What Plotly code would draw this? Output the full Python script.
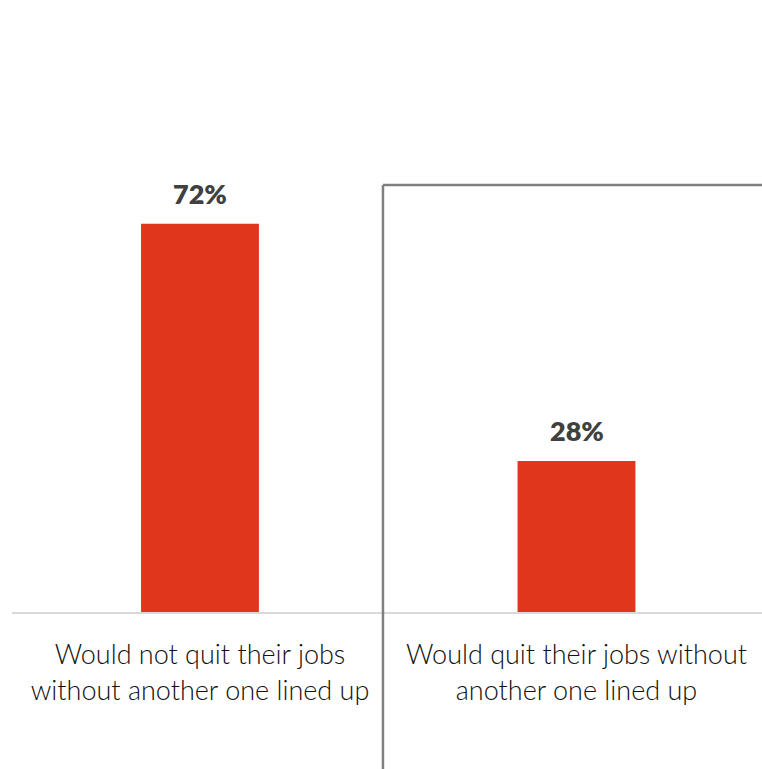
import plotly.graph_objects as go

categories = ["Would not quit their jobs<br>without another one lined up",
              "Would quit their jobs without<br>another one lined up"]
values = [72, 28]
value_labels = ["72%", "28%"]
xpos = [0, 1]

fig = go.Figure(go.Bar(
    x=xpos, y=values,
    marker=dict(color="#E0361B", line=dict(width=0)),
    width=0.313,
))

for x, v, t in zip(xpos, values, value_labels):
    fig.add_annotation(x=x, y=v, text=t, showarrow=False, yanchor="bottom",
                       yshift=12,
                       font=dict(family="Lato", size=27, color="#404040", weight=800))

fig.update_layout(
    width=762, height=769,
    margin=dict(l=12, r=0, t=0, b=157),
    paper_bgcolor="white", plot_bgcolor="white",
    showlegend=False,
    xaxis=dict(range=[-0.4993, 1.4927], tickvals=xpos, ticktext=categories,
               showgrid=False, zeroline=False, showline=True,
               linecolor="#D9D9D9", linewidth=2, ticks="",
               tickfont=dict(family="Lato", size=27, color="#111111", weight=300),
               ticklabelstandoff=18),
    yaxis=dict(range=[0, 113.5], visible=False),
    shapes=[
        dict(type="line", xref="x", yref="paper", x0=0.486, x1=0.486,
             y0=-0.26, y1=0.6977, line=dict(color="#7F7F7F", width=2.5)),
        dict(type="line", xref="x", yref="paper", x0=0.486, x1=1.5,
             y0=0.6977, y1=0.6977, line=dict(color="#7F7F7F", width=2.5)),
    ],
)

fig.write_html("out.html")
